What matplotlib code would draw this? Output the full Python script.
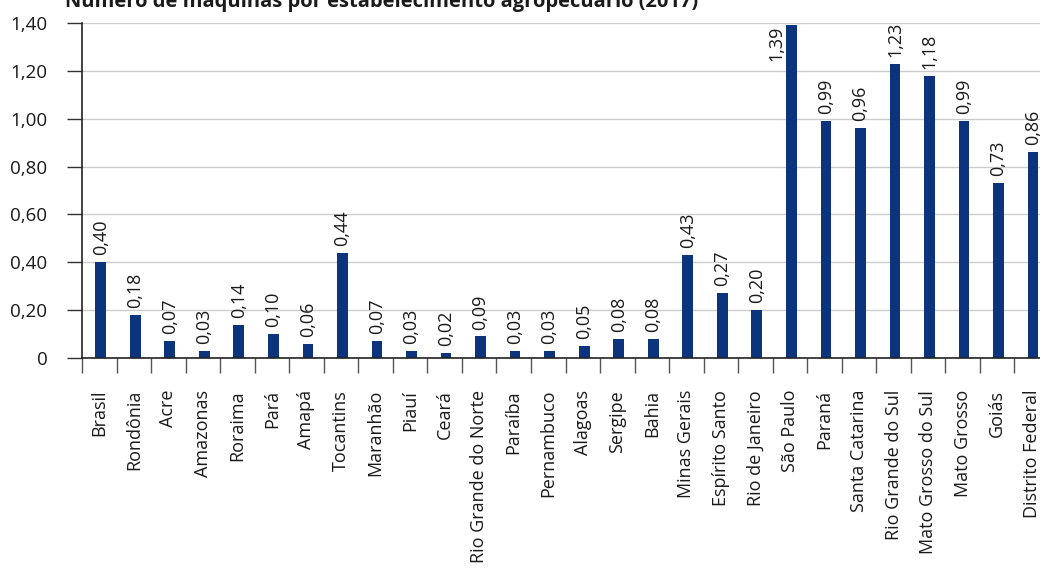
import numpy as np
import matplotlib.pyplot as plt
from matplotlib.ticker import FixedLocator, FuncFormatter

plt.rcParams['font.family'] = ['Open Sans', 'DejaVu Sans']

titulo = 'Número de máquinas por estabelecimento agropecuário (2017)'
ufs = ['Brasil', 'Rondônia', 'Acre', 'Amazonas', 'Roraima', 'Pará', 'Amapá',
       'Tocantins', 'Maranhão', 'Piauí', 'Ceará', 'Rio Grande do Norte',
       'Paraíba', 'Pernambuco', 'Alagoas', 'Sergipe', 'Bahia', 'Minas Gerais',
       'Espírito Santo', 'Rio de Janeiro', 'São Paulo', 'Paraná',
       'Santa Catarina', 'Rio Grande do Sul', 'Mato Grosso do Sul',
       'Mato Grosso', 'Goiás', 'Distrito Federal']
maquinas = [0.40, 0.18, 0.07, 0.03, 0.14, 0.10, 0.06, 0.44, 0.07, 0.03, 0.02,
            0.09, 0.03, 0.03, 0.05, 0.08, 0.08, 0.43, 0.27, 0.20, 1.39, 0.99,
            0.96, 1.23, 1.18, 0.99, 0.73, 0.86]
yticks = [0, 0.2, 0.4, 0.6, 0.8, 1.0, 1.2, 1.4]

azul = '#0b347c'

W, H = 1040, 570
fig = plt.figure(figsize=(W / 100, H / 100), dpi=100)
# eixo vai um pouco além da borda direita (última barra encostada na margem)
ax = fig.add_axes([82 / W, 1 - 358 / H, 967 / W, 335 / H])

x = np.arange(len(ufs))
ax.bar(x + 0.04, maquinas, width=0.31, color=azul, zorder=3)
ax.set_xlim(-0.5, len(ufs) - 0.5)
ax.set_ylim(0, 1.40)

# rótulos de valor
ymax = ax.get_ylim()[1]
for xi, v in zip(x + 0.04, maquinas):
    txt = f'{v:.2f}'.replace('.', ',')
    if v > ymax - 0.12:
        ax.annotate(txt, (xi, v), xytext=(-11, 0), textcoords='offset points',
                    rotation=90, ha='center', va='top', fontsize=13,
                    color='#1a1a1a', zorder=4)
    else:
        ax.annotate(txt, (xi, v), xytext=(0, 5), textcoords='offset points',
                    rotation=90, ha='center', va='bottom', fontsize=13,
                    color='#1a1a1a', zorder=4)

# eixo y
ax.set_yticks(yticks)
ax.yaxis.set_major_formatter(FuncFormatter(
    lambda v, p: '0' if v == 0 else f'{v:.2f}'.replace('.', ',')))
ax.tick_params(axis='y', length=11, width=1, color='#333333', pad=14,
               labelsize=13.5, labelcolor='#1a1a1a')
ax.grid(axis='y', color='#cccccc', linewidth=1, zorder=0)

# eixo x: traços nas divisas, nomes no centro
ax.xaxis.set_major_locator(FixedLocator(np.arange(len(ufs) + 1) - 0.5))
ax.xaxis.set_major_formatter(FuncFormatter(lambda v, p: ''))
ax.xaxis.set_minor_locator(FixedLocator(x))
ax.set_xticklabels(ufs, minor=True, rotation=90, va='top', ha='center')
ax.tick_params(axis='x', which='major', length=11, width=1, color='#555555')
ax.tick_params(axis='x', which='minor', length=0, pad=23, labelsize=13,
               labelcolor='#1a1a1a')

for s in ['top', 'right']:
    ax.spines[s].set_visible(False)
for s in ['left', 'bottom']:
    ax.spines[s].set_color('#222222')
    ax.spines[s].set_linewidth(1.2)
    ax.spines[s].set_zorder(5)

fig.text(65 / W, 1 - 7 / H, titulo, fontsize=14.5, fontweight='bold',
         color='#1a1a1a', ha='left', va='baseline')

fig.savefig('out.png', dpi=100)
